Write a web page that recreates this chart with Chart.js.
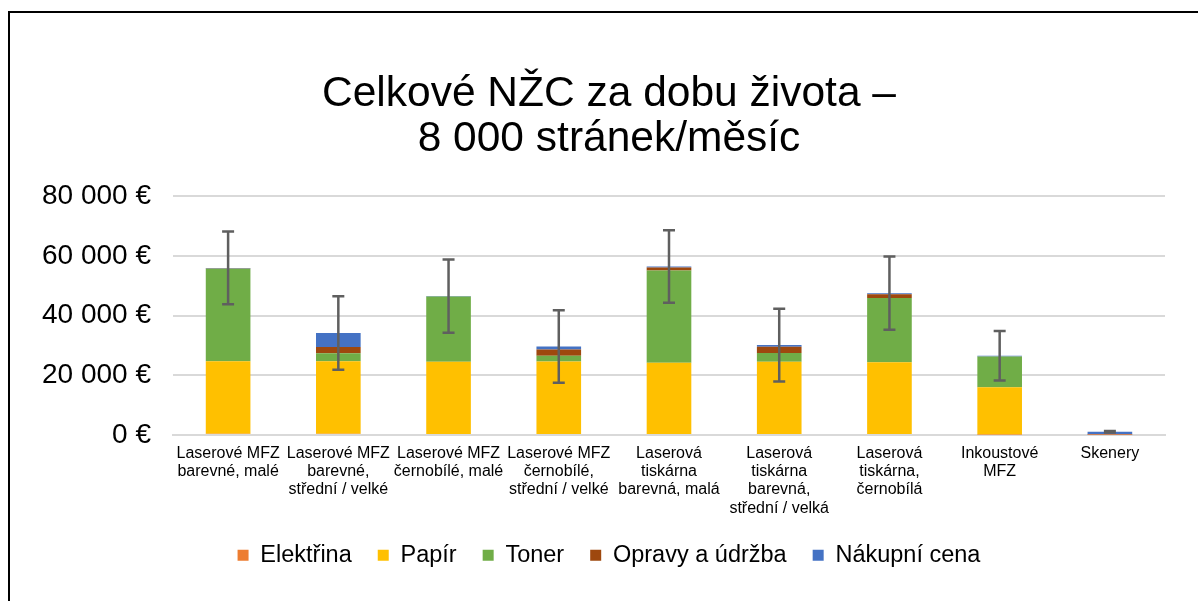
<!DOCTYPE html>
<html>
<head>
<meta charset="utf-8">
<script src="https://cdn.jsdelivr.net/npm/chart.js@4"></script>
<style>
  html, body { margin: 0; padding: 0; background: #fff; overflow: hidden; }
  #wrap { position: relative; width: 1198px; height: 601px; }
  #frame {
    position: absolute; left: 8px; top: 11px; width: 1400px; height: 800px;
    border: 2px solid #000; pointer-events: none;
  }
</style>
</head>
<body>
<div id="wrap">
  <canvas id="costChart" width="1198" height="601"></canvas>
  <div id="frame"></div>
</div>
<script>
// kategorie zařízení
const categories = [
    ['Laserové MFZ', 'barevné, malé'],
    ['Laserové MFZ', 'barevné,', 'střední / velké'],
    ['Laserové MFZ', 'černobílé, malé'],
    ['Laserové MFZ', 'černobílé,', 'střední / velké'],
    ['Laserová', 'tiskárna', 'barevná, malá'],
    ['Laserová', 'tiskárna', 'barevná,', 'střední / velká'],
    ['Laserová', 'tiskárna,', 'černobílá'],
    ['Inkoustové', 'MFZ'],
    ['Skenery']
];

// hodnoty v EUR
const elektrina = [350, 350, 300, 300, 300, 300, 300, 100, 30];
const papir     = [24300, 24300, 24200, 24300, 23900, 24200, 24000, 15900, 0];
const toner     = [31000, 2700, 21850, 1900, 30900, 2900, 21600, 10300, 0];
const opravy    = [100, 2100, 50, 2150, 1000, 2100, 1250, 0, 0];
const nakupni   = [200, 4700, 100, 1000, 330, 580, 340, 210, 1000];

// chybové úsečky (+/-) kolem celkové hodnoty
const errors = [12200, 12300, 12300, 12150, 12150, 12150, 12250, 8300, 250];

const yTicks = [0, 20000, 40000, 60000, 80000];

const font = 'Liberation Sans, Arial, sans-serif';

function formatEuro(v) {
    return v.toString().replace(/\B(?=(\d{3})+(?!\d))/g, ' ') + ' €';
}

// kreslí chybové úsečky nad sloupci
const errorBarPlugin = {
    id: 'errorBars',
    afterDatasetsDraw(chart) {
        const ctx = chart.ctx;
        const x = chart.scales.x;
        const y = chart.scales.y;
        ctx.save();
        ctx.strokeStyle = '#5f5f5f';
        ctx.lineWidth = 2.5;
        categories.forEach((c, i) => {
            let total = 0;
            chart.data.datasets.forEach(ds => { total += ds.data[i]; });
            const cx = x.getPixelForValue(i);
            const top = y.getPixelForValue(total + errors[i]);
            const bottom = y.getPixelForValue(Math.max(0, total - errors[i]));
            const cap = 6;
            ctx.beginPath();
            ctx.moveTo(cx, top);
            ctx.lineTo(cx, bottom);
            ctx.moveTo(cx - cap, top);
            ctx.lineTo(cx + cap, top);
            ctx.moveTo(cx - cap, bottom);
            ctx.lineTo(cx + cap, bottom);
            ctx.stroke();
        });
        ctx.restore();
    }
};

const ctx = document.getElementById('costChart').getContext('2d');
const costChart = new Chart(ctx, {
    type: 'bar',
    data: {
        labels: categories,
        datasets: [
            { label: 'Elektřina', data: elektrina, backgroundColor: '#ED7D31' },
            { label: 'Papír', data: papir, backgroundColor: '#FFC000' },
            { label: 'Toner', data: toner, backgroundColor: '#70AD47' },
            { label: 'Opravy a údržba', data: opravy, backgroundColor: '#9E480E' },
            { label: 'Nákupní cena', data: nakupni, backgroundColor: '#4472C4' }
        ]
    },
    options: {
        responsive: false,
        animation: false,
        devicePixelRatio: 1,
        layout: {
            padding: { left: 20, right: 0, top: 0, bottom: 24 }
        },
        datasets: {
            bar: { barPercentage: 0.405, categoryPercentage: 1 }
        },
        plugins: {
            title: {
                display: true,
                text: ['Celkové NŽC za dobu života –', '8 000 stránek/měsíc'],
                color: '#000',
                font: { family: font, size: 42.5, weight: 'normal', lineHeight: 1.06 },
                padding: { top: 72, bottom: 34 }
            },
            legend: {
                position: 'bottom',
                labels: {
                    color: '#000',
                    boxWidth: 11,
                    boxHeight: 11,
                    padding: 26,
                    font: { family: font, size: 23.5 }
                }
            },
            tooltip: { enabled: false }
        },
        scales: {
            x: {
                stacked: true,
                grid: { display: false },
                border: { display: true, color: '#d9d9d9', width: 2 },
                afterFit(axis) { axis.height -= 1; },
                ticks: {
                    color: '#000',
                    maxRotation: 0,
                    minRotation: 0,
                    autoSkip: false,
                    padding: 1,
                    font: { family: font, size: 16, lineHeight: 1.15 }
                }
            },
            y: {
                stacked: true,
                min: 0,
                max: 80000,
                afterBuildTicks(axis) {
                    axis.ticks = yTicks.map(v => ({ value: v }));
                },
                grid: { color: '#d9d9d9', lineWidth: 2, drawTicks: false },
                border: { display: false },
                ticks: {
                    color: '#000',
                    padding: 22,
                    font: { family: font, size: 28 },
                    callback: v => formatEuro(v)
                }
            },
            // prázdné místo vpravo od grafu
            yRight: {
                type: 'linear',
                position: 'right',
                grid: { display: false },
                border: { display: false },
                ticks: { display: false },
                afterFit(axis) { axis.width = 33; }
            }
        }
    },
    plugins: [errorBarPlugin]
});
</script>
</body>
</html>
